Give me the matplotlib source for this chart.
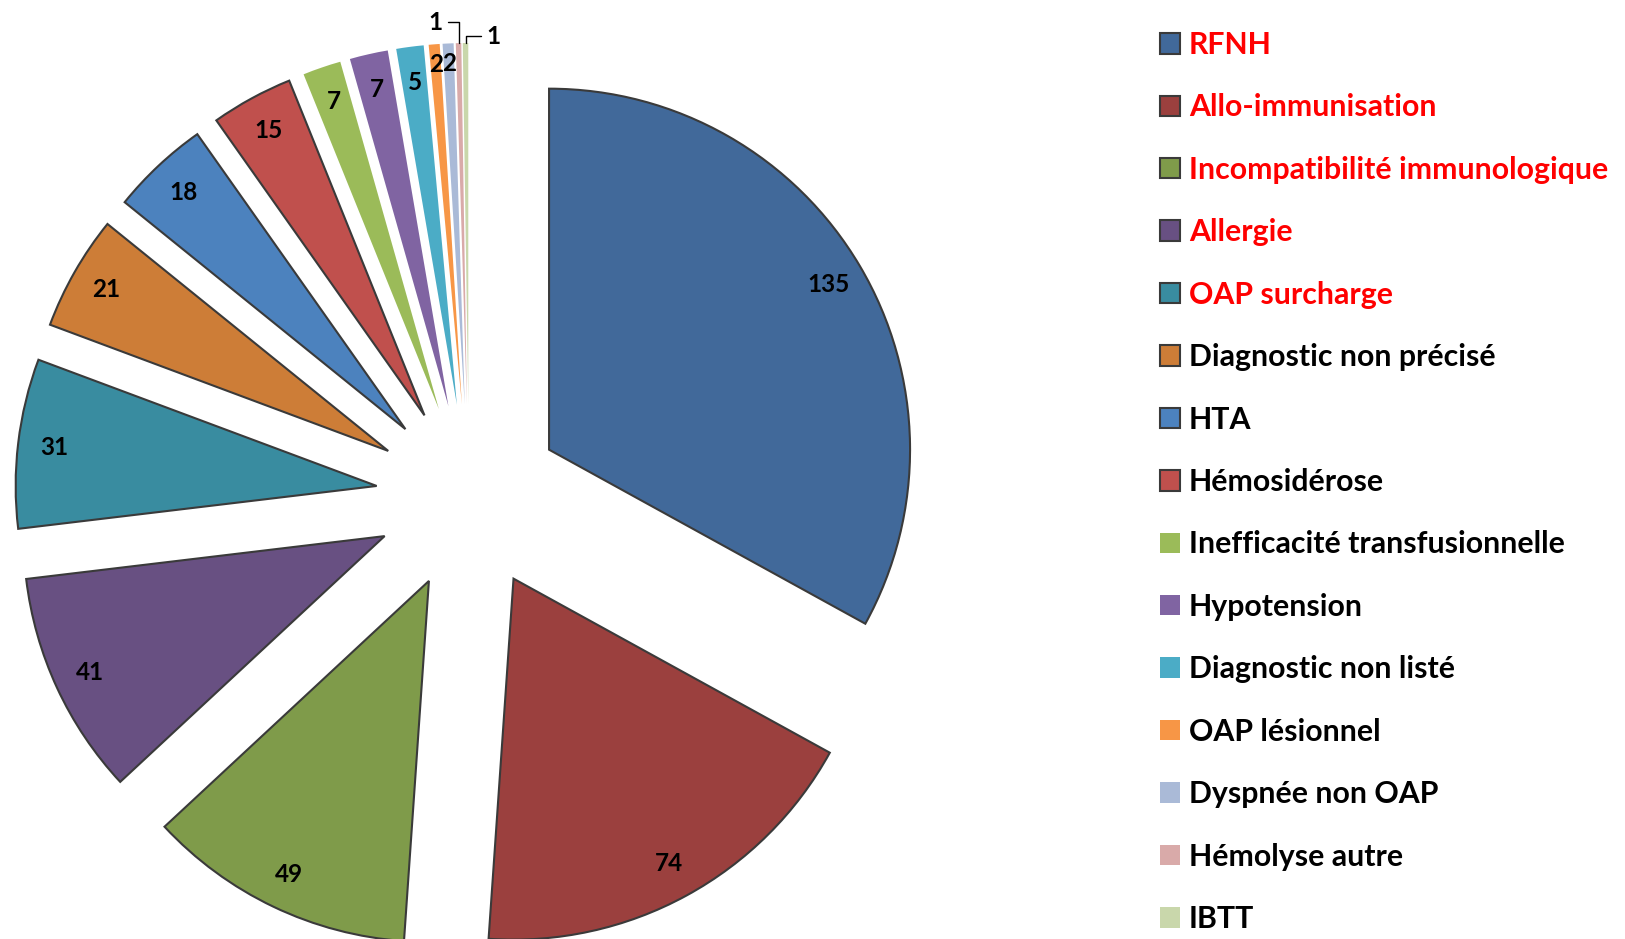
import numpy as np
import matplotlib.pyplot as plt

categories = ["RFNH", "Allo-immunisation", "Incompatibilité immunologique", "Allergie",
              "OAP surcharge", "Diagnostic non précisé", "HTA", "Hémosidérose",
              "Inefficacité transfusionnelle", "Hypotension", "Diagnostic non listé",
              "OAP lésionnel", "Dyspnée non OAP", "Hémolyse autre", "IBTT"]
counts = [135, 74, 49, 41, 31, 21, 18, 15, 7, 7, 5, 2, 2, 1, 1]
colors = ["#41699A", "#9B403E", "#7F9B4A", "#685082", "#398CA0", "#CD7D37", "#4C82BE",
          "#C0504D", "#9BBB59", "#8064A2", "#4BACC6", "#F79646", "#AABAD7", "#D9AAA9", "#C9D7AB"]
n_outlined = 8   # only the first slices carry a dark border
n_red = 5        # legend entries written in red

plt.rcParams['font.family'] = ['Lato', 'DejaVu Sans']
fig = plt.figure(figsize=(16.25, 9.39), dpi=100)
ax = fig.add_axes([0, 0, 1, 1])

total = sum(counts)

def fmt(pct):
    v = int(round(pct * total / 100))
    return '' if v == 1 else str(v)   # the 1s get leader lines

wedges, texts, autotexts = ax.pie(counts, colors=colors, startangle=90, counterclock=False,
                                  center=(469, 442), radius=361, explode=[93] * len(counts),
                                  autopct=fmt, pctdistance=0.9)
# pie resets the limits, so set them afterwards (data units = pixels)
ax.set_xlim(0, 1625)
ax.set_ylim(0, 939)
ax.set_aspect('equal')
ax.axis('off')

for t in autotexts:
    t.set_fontsize(17.5)
    t.set_fontweight('bold')
    t.set_color('black')

for i, w in enumerate(wedges):
    if i < n_outlined:
        w.set_edgecolor('#3a3a3a')
        w.set_linewidth(1.5)
    else:
        w.set_edgecolor('none')

# the two "2" labels sit a bit further out
for i in (11, 12):
    w = wedges[i]
    th = np.deg2rad((w.theta1 + w.theta2) / 2)
    autotexts[i].set_position((w.center[0] + 0.945 * w.r * np.cos(th),
                               w.center[1] + 0.945 * w.r * np.sin(th)))

# outside labels for the two smallest slices
for i, (dx, dy) in zip([13, 14], [(-23, 21), (28, 7)]):
    w = wedges[i]
    th = np.deg2rad((w.theta1 + w.theta2) / 2)
    tip = (w.center[0] + w.r * np.cos(th), w.center[1] + w.r * np.sin(th))
    ax.annotate(str(counts[i]), xy=tip, xytext=(tip[0] + dx, tip[1] + dy),
                ha='center', va='center', fontsize=17.5, fontweight='bold',
                arrowprops=dict(arrowstyle='-', color='black', lw=1,
                                connectionstyle="angle,angleA=0,angleB=90,rad=0",
                                shrinkA=2, shrinkB=0))

leg = fig.legend(wedges, categories, loc='upper left', bbox_to_anchor=(1160 / 1625, 1 - 31 / 939),
                 frameon=False, fontsize=21.8, handlelength=0.66, handleheight=0.66,
                 handletextpad=0.3, labelspacing=1.137, borderpad=0, borderaxespad=0)
for i, t in enumerate(leg.get_texts()):
    t.set_fontweight('bold')
    t.set_color('#FF0000' if i < n_red else 'black')

fig.savefig("out.png", dpi=100)
